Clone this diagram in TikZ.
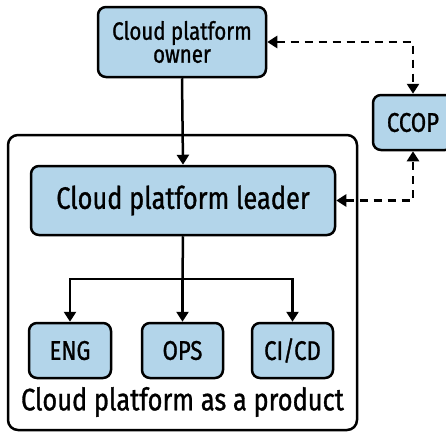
\documentclass[tikz,border=0pt]{standalone}
\usepackage{fontspec}
\setmainfont[FakeStretch=0.82,FakeBold=1]{Fira Sans}
\usetikzlibrary{arrows.meta}
\definecolor{boxblue}{RGB}{179,213,234}
\tikzset{
  x=1pt, y=-1pt,
  bluebox/.style={draw=black, fill=boxblue, line width=2.5pt, rounded corners=8pt, inner sep=0pt, align=center, font=\fontsize{27}{27}\selectfont},
  conn/.style={line width=2.5pt, -{Triangle[length=10pt,width=12pt]}},
  dconn/.style={line width=2.5pt, dash pattern=on 8pt off 6pt, {Triangle[length=10pt,width=12pt]}-{Triangle[length=10pt,width=12pt]}},
}
\begin{document}
\begin{tikzpicture}
\useasboundingbox (0,0) rectangle (446,431);
\clip (0,0) rectangle (446,431);
\node[draw=black, line width=2.5pt, rounded corners=10pt, minimum width=349pt, minimum height=295pt, inner sep=0pt] (outer) at (182.5,282.5) {};
\node[bluebox, minimum width=168pt, minimum height=70pt, font=\fontsize{25}{23}\selectfont] (owner) at (182,42) {Cloud platform\\owner};
\node[bluebox, minimum width=304pt, minimum height=69pt, font=\fontsize{31}{31}\selectfont] (leader) at (183,200.5) {Cloud platform leader};
\node[bluebox, minimum width=80pt, minimum height=55pt] (ccop) at (413,122.5) {CCOP};
\node[bluebox, minimum width=82pt, minimum height=55pt] (eng) at (70,350.5) {ENG};
\node[bluebox, minimum width=81pt, minimum height=55pt] (ops) at (182.5,350.5) {OPS};
\node[bluebox, minimum width=81pt, minimum height=55pt] (cicd) at (292.5,350.5) {CI/CD};
\node[font=\fontsize{31}{31}\selectfont, inner sep=0pt] (label) at (182.5,402) {Cloud platform as a product};
\coordinate (split) at (182.5,279);
\draw[conn] (owner.south) -- (leader.north);
\draw[line width=2.5pt] (leader.south) -- (split);
\draw[conn] (split) -| (eng.north);
\draw[conn] (split) -| (cicd.north);
\draw[conn] (split) -- (ops.north);
\draw[dconn] (owner.east) -| (ccop.north);
\draw[dconn] (leader.east) -| (ccop.south);
\end{tikzpicture}
\end{document}
